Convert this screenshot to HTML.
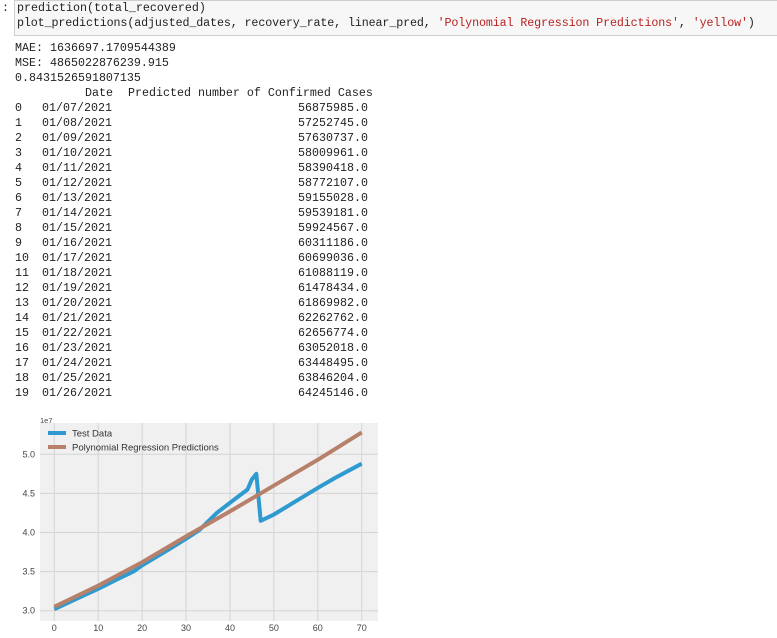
<!DOCTYPE html>
<html><head><meta charset="utf-8"><style>
body{margin:0;width:777px;height:638px;background:#fff;overflow:hidden;position:relative;font-family:"Liberation Mono",monospace;}
.code{position:absolute;left:14px;top:0;width:770px;height:36px;background:#f7f7f7;border:1px solid #cfcfcf;box-sizing:border-box;}
.t{position:absolute;font-size:11.67px;line-height:15px;white-space:pre;color:#222;}
.str{color:#ba2121;}
</style></head><body>
<div class="t" style="left:2px;top:1px">:</div>
<div class="code"></div>
<div class="t" style="left:17px;top:1px">prediction(total_recovered)</div>
<div class="t" style="left:17px;top:16px;letter-spacing:-0.1px">plot_predictions(adjusted_dates, recovery_rate, linear_pred, <span class="str">'Polynomial Regression Predictions'</span>, <span class="str">'yellow'</span>)</div>
<div id="out"></div>
<svg id="chart" style="position:absolute;left:0;top:418px" width="390" height="220"></svg>
<script>
const lines=["MAE: 1636697.1709544389","MSE: 4865022876239.915","0.8431526591807135"];
const dates=["01/07/2021","01/08/2021","01/09/2021","01/10/2021","01/11/2021","01/12/2021","01/13/2021","01/14/2021","01/15/2021","01/16/2021","01/17/2021","01/18/2021","01/19/2021","01/20/2021","01/21/2021","01/22/2021","01/23/2021","01/24/2021","01/25/2021","01/26/2021"];
const preds=["56875985.0","57252745.0","57630737.0","58009961.0","58390418.0","58772107.0","59155028.0","59539181.0","59924567.0","60311186.0","60699036.0","61088119.0","61478434.0","61869982.0","62262762.0","62656774.0","63052018.0","63448495.0","63846204.0","64245146.0"];
const out=document.getElementById('out');
function addT(txt,x,y,name){const d=document.createElement('div');d.className='t';d.style.left=x+'px';d.style.top=y+'px';d.textContent=txt;


out.appendChild(d);return d;}
lines.forEach((l,i)=>addT(l,15,41+i*15,'metric-line'));
addT('Date',85,86,'column-header-date');
addT('Predicted number of Confirmed Cases',128,86,'column-header-predicted');
dates.forEach((d,i)=>{const y=101+i*15;addT(String(i),15,y,'row-index');addT(d,42,y,'row-date');addT(preds[i],298,y,'row-value');});

const testX=[0,5,10,15,18,20,26,30,33,37,40,44,45,46,47,50,55,60,64,70];
const testY=[3.02,3.15,3.28,3.42,3.5,3.58,3.78,3.92,4.03,4.25,4.38,4.55,4.68,4.75,4.15,4.23,4.40,4.57,4.70,4.88];
const predX=[0,10,20,30,40,50,60,70];
const predY=[3.05,3.32,3.62,3.95,4.27,4.60,4.93,5.28];
const xTicks=[0,10,20,30,40,50,60,70];
const yTicks=[3.0,3.5,4.0,4.5,5.0];
const OY=418;
const sx=v=>54.3+v*(361.7-54.3)/70;
const sy=v=>(610.7-OY)-(v-3.0)*(610.7-454.3)/2.0;
const svg=document.getElementById('chart');const NS='http://www.w3.org/2000/svg';
function el(t,a,name){const e=document.createElementNS(NS,t);for(const k in a)e.setAttribute(k,a[k]);


svg.appendChild(e);return e;}
el('rect',{x:40,y:5,width:338,height:198,fill:'#f0f0f0'},'plot-area');
xTicks.forEach(t=>{el('line',{x1:sx(t),x2:sx(t),y1:5,y2:203,stroke:'#d4d4d4','stroke-width':1},'x-gridline');
const tx=el('text',{x:sx(t),y:213,'font-size':9,'text-anchor':'middle',fill:'#444','font-family':'Liberation Sans,sans-serif'},'x-tick-label');tx.textContent=t;});
yTicks.forEach(t=>{el('line',{x1:40,x2:378,y1:sy(t),y2:sy(t),stroke:'#d4d4d4','stroke-width':1},'y-gridline');
const tx=el('text',{x:35,y:sy(t)+3,'font-size':9,'text-anchor':'end',fill:'#444','font-family':'Liberation Sans,sans-serif'},'y-tick-label');tx.textContent=t.toFixed(1);});
const ex=el('text',{x:40,y:5,'font-size':7.5,fill:'#444','font-family':'Liberation Sans,sans-serif'},'y-offset-label');ex.textContent='1e7';
el('polyline',{points:testX.map((x,i)=>sx(x)+','+sy(testY[i])).join(' '),fill:'none',stroke:'#2e9ad0','stroke-width':4,'stroke-linejoin':'round'},'test-data-line');
el('polyline',{points:predX.map((x,i)=>sx(x)+','+sy(predY[i])).join(' '),fill:'none',stroke:'#b7806a','stroke-width':4,'stroke-linejoin':'round'},'prediction-line');
el('line',{x1:48,x2:66,y1:15,y2:15,stroke:'#2e9ad0','stroke-width':4},'legend-swatch-test');
const l1=el('text',{x:72,y:18.5,'font-size':9.5,fill:'#333','font-family':'Liberation Sans,sans-serif'},'legend-entry-test');l1.textContent='Test Data';
el('line',{x1:48,x2:66,y1:29,y2:29,stroke:'#b7806a','stroke-width':4},'legend-swatch-prediction');
const l2=el('text',{x:72,y:32.5,'font-size':9.5,fill:'#333','font-family':'Liberation Sans,sans-serif'},'legend-entry-prediction');l2.textContent='Polynomial Regression Predictions';
</script>
</body></html>
